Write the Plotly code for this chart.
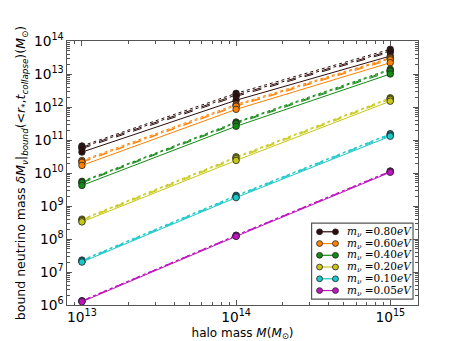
import plotly.graph_objects as go

halo_mass = [1e13, 1e14, 1e15]

labels = ['0.80', '0.60', '0.40', '0.20', '0.10', '0.05']
colors = ['#2e0c0c', '#ff8000', '#148a14', '#c8c814', '#19c8c8', '#c014c0']

# bound mass for each neutrino mass: solid, dashed, dash-dot, dotted curves
m080 = [[4.3e10, 1.6e12, 3.5e13],
        [5.5e10, 2.1e12, 4.6e13],
        [6.0e10, 2.3e12, 5.0e13],
        [6.6e10, 2.6e12, 5.6e13]]
m060 = [[1.7e10, 8.5e11, 2.2e13],
        [2.1e10, 1.05e12, 2.7e13],
        [2.2e10, 1.1e12, 2.9e13],
        [2.4e10, 1.2e12, 3.1e13]]
m040 = [[4.2e9, 2.6e11, 1.0e13],
        [5.0e9, 3.1e11, 1.2e13],
        [5.3e9, 3.3e11, 1.3e13],
        [5.6e9, 3.5e11, 1.4e13]]
m020 = [[3.3e8, 2.4e10, 1.5e12],
        [3.6e8, 2.7e10, 1.7e12],
        [3.8e8, 2.9e10, 1.8e12],
        [4.0e8, 3.1e10, 1.9e12]]
m010 = [[2.0e7, 1.8e9, 1.3e11],
        [2.1e7, 1.9e9, 1.4e11],
        [2.2e7, 2.0e9, 1.5e11],
        [2.3e7, 2.1e9, 1.55e11]]
m005 = [[1.25e6, 1.2e8, 1.05e10],
        [1.3e6, 1.25e8, 1.1e10],
        [1.33e6, 1.28e8, 1.12e10],
        [1.35e6, 1.3e8, 1.15e10]]

all_masses = [m080, m060, m040, m020, m010, m005]
dashes = ['solid', 'dash', 'dashdot', 'dot']

fig = go.Figure()
for lab, col, curves in zip(labels, colors, all_masses):
    # dashed ones first, solid last so it sits on top
    for k in [3, 2, 1, 0]:
        fig.add_trace(go.Scatter(
            x=halo_mass, y=curves[k],
            mode='lines+markers',
            line=dict(color=col, width=1, dash=dashes[k]),
            marker=dict(symbol='circle', size=6.5, color=col,
                        line=dict(color='#222222', width=0.8)),
            showlegend=False))

# matplotlib-style legend (two markers per entry), built from shapes + annotations
W, H = 353.0, 274.0          # plot area in px
def px(x):
    return (x - 57) / W
def py(y):
    return (307 - y) / H

shapes = [dict(type='rect', xref='paper', yref='paper',
               x0=px(303), x1=px(405), y0=py(301), y1=py(222),
               line=dict(color='#555555', width=1.2), fillcolor='white', layer='above')]
annotations = []
r = 3.0
for i, (lab, col) in enumerate(zip(labels, colors)):
    yy = 231 + i * 12.2
    shapes.append(dict(type='line', xref='paper', yref='paper',
                       x0=px(311), x1=px(327), y0=py(yy), y1=py(yy),
                       line=dict(color=col, width=1.2), layer='above'))
    for xc in (311, 327):
        shapes.append(dict(type='circle', xref='paper', yref='paper',
                           x0=px(xc - r), x1=px(xc + r), y0=py(yy + r), y1=py(yy - r),
                           fillcolor=col, line=dict(color='#222222', width=0.8),
                           layer='above'))
    annotations.append(dict(xref='paper', yref='paper', x=px(337), y=py(yy),
                            xanchor='left', yanchor='middle', showarrow=False,
                            text='<i>m</i><sub><i>ν</i></sub> =' + lab + '<i>eV</i>',
                            font=dict(family='DejaVu Serif', size=10.5, color='black')))

axis_style = dict(type='log', showline=True, linecolor='#555555', linewidth=1.2,
                  mirror='ticks', ticks='inside', ticklen=5, tickcolor='#555555',
                  showgrid=False, zeroline=False, exponentformat='power',
                  tickfont=dict(family='DejaVu Sans', size=11, color='black'),
                  minor=dict(ticks='inside', ticklen=2.5, tickcolor='#555555', dtick='D1'))

fig.update_layout(
    width=455, height=341,
    margin=dict(l=57, r=45, t=33, b=34),
    plot_bgcolor='white', paper_bgcolor='white',
    font=dict(family='DejaVu Sans', size=11, color='black'),
    xaxis=dict(axis_style, range=[12.903, 15.18], dtick=1,
               title=dict(text='halo mass <i>M</i>(<i>M</i><sub>⊙</sub>)',
                          font=dict(size=12), standoff=4)),
    yaxis=dict(axis_style, range=[6, 14], dtick=1,
               title=dict(text='bound neutrino mass <i>δM</i><sub><i>ν</i></sub>|<sub><i>bound</i></sub>'
                               '(&lt;<i>r</i><sub>*</sub>,<i>t</i><sub><i>collapse</i></sub>)(<i>M</i><sub>⊙</sub>)',
                          font=dict(size=12.5), standoff=5)),
    shapes=shapes,
    annotations=annotations,
    showlegend=False,
)

fig.write_html('out.html')
